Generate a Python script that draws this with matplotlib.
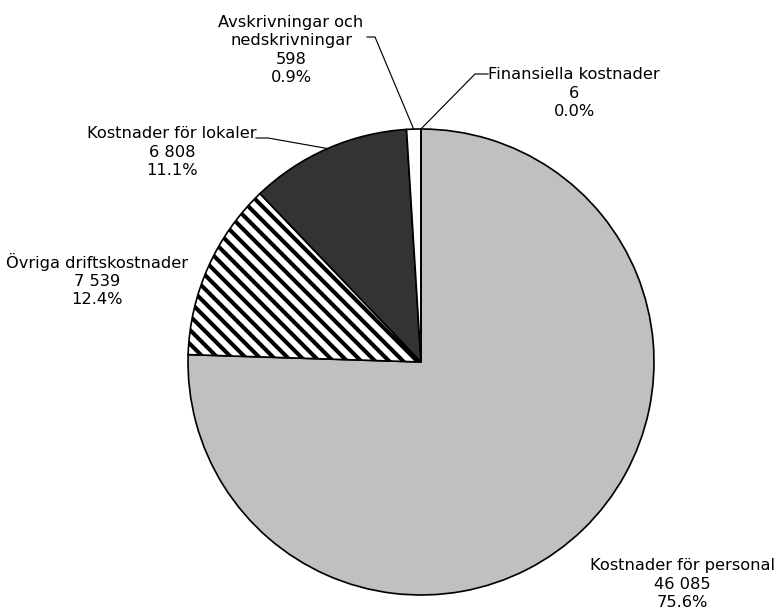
import matplotlib
matplotlib.use('Agg')
import matplotlib.pyplot as plt
import numpy as np

categories = ['Kostnader för personal', 'Övriga driftskostnader', 'Kostnader för lokaler',
              'Avskrivningar och\nnedskrivningar', 'Finansiella kostnader']
values = [46085, 7539, 6808, 598, 6]
value_labels = ['46 085', '7 539', '6 808', '598', '6']
pct_labels = ['75.6%', '12.4%', '11.1%', '0.9%', '0.0%']

DPI = 84
W, H = 775, 612
plt.rcParams['hatch.linewidth'] = 3.5
plt.rcParams['hatch.color'] = 'black'
plt.rcParams['font.family'] = ['DejaVu Sans']

fig = plt.figure(figsize=(W / DPI + 1e-6, H / DPI + 1e-6), dpi=DPI)
ax = fig.add_axes([0, 0, 1, 1])

cx, cy, R = 421, H - 362, 233
colors = ['#c0c0c0', 'white', '#333333', 'white', 'white']
hatches = [None, '\\\\', None, None, None]
wedges, _ = ax.pie(values, colors=colors, startangle=90, counterclock=False,
                   center=(cx, cy), radius=R, hatch=hatches,
                   wedgeprops=dict(edgecolor='black', linewidth=1.45))

ax.set_xlim(0, W)
ax.set_ylim(0, H)
ax.set_aspect('equal')
ax.axis('off')

# label layout (pixel coords, y measured from top)
label_pos = [(682, 584), (97, 280), (172, 152), (291, 50), (574, 93)]
elbows = [None, None, ((268, 138), (256, 138)), ((375, 37), (367, 37)), ((475, 74), (488, 74))]

for i, (cat, vl, pl) in enumerate(zip(categories, value_labels, pct_labels)):
    x, y = label_pos[i]
    ax.text(x, H - y, f'{cat}\n{vl}\n{pl}', ha='center', va='center',
            multialignment='center', fontsize=13.9, color='black', linespacing=1.29)
    if elbows[i] is not None:
        w = wedges[i]
        th = np.deg2rad((w.theta1 + w.theta2) / 2)
        px, py = cx + R * np.cos(th), cy + R * np.sin(th)
        (ex, ey), (tx, ty) = elbows[i]
        ax.plot([px, ex, tx], [py, H - ey, H - ty], color='black', lw=1.0,
                solid_joinstyle='miter')

fig.savefig('out.png', dpi=DPI)
